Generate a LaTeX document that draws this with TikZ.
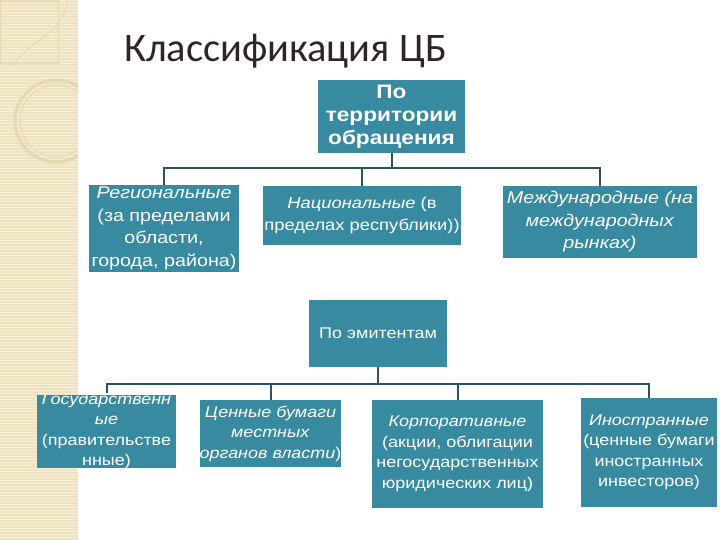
\documentclass[tikz,border=0pt]{standalone}
\usepackage{fontspec}
\setmainfont{Liberation Sans}[FakeStretch=1.16]
\newfontfamily\titlefont{Carlito}
\usetikzlibrary{positioning}
\definecolor{teal1}{RGB}{56,138,160}
\definecolor{conncol}{RGB}{44,84,96}
\definecolor{stripbg}{RGB}{238,226,192}
\definecolor{stripln}{RGB}{246,238,214}
\definecolor{stripdeco}{RGB}{230,216,180}
\definecolor{titlecol}{RGB}{50,36,36}
\tikzset{
  box/.style={rectangle, fill=teal1, text=white, inner sep=0pt, align=center},
  bigtxt/.style={font=\fontsize{17}{22.5}\selectfont},
  smalltxt/.style={font=\fontsize{15.5}{20.5}\selectfont},
  conn/.style={draw=conncol, line width=2pt}
}
\begin{document}
\begin{tikzpicture}[x=1pt,y=-1pt]
\useasboundingbox (0,0) rectangle (720,540);
\fill[white] (0,0) rectangle (720,540);
% decorative strip
\fill[stripbg] (0,0) rectangle (78,540);
\foreach \yy in {0,3,...,540} \draw[stripln, line width=0.8pt] (0,\yy) -- (78,\yy);
\begin{scope}
  \clip (0,0) rectangle (78,540);
  \draw[stripdeco, line width=0.8pt] (0,0) rectangle (58,63);
  \draw[stripdeco, line width=0.8pt] (68,0) .. controls (62,35) and (30,40) .. (12,66);
  \draw[stripdeco, line width=3pt] (56,121) circle (41);
  \draw[stripdeco, line width=0.8pt] (56,121) circle (36);
\end{scope}
% title
\node[anchor=base west, inner sep=0pt, text=titlecol, font=\titlefont\fontsize{40.5}{42}\selectfont] (title) at (124,62) {Классификация ЦБ};
% group 1
\node[box, minimum width=147pt, minimum height=73pt, font=\bfseries\fontsize{19.5}{23}\selectfont] (top) at (391.5,116.5) {По\\территории\\обращения};
\node[box, bigtxt, minimum width=150pt, minimum height=87pt] (reg) at (164,228.5) {\textit{Региональные}\\(за пределами\\области,\\города, района)};
\node[box, font=\fontsize{15.8}{22}\selectfont, minimum width=198pt, minimum height=59pt] (nat) at (362,215.5) {\textit{Национальные} (в\\пределах республики))};
\node[box, bigtxt, minimum width=194pt, minimum height=72pt] (int) at (600,222) {\textit{Международные (на}\\\textit{международных}\\\textit{рынках)}};
\coordinate (bus1) at (391,168);
\draw[conn] (top.south) -- (top.south |- bus1) -| (reg.north);
\draw[conn] (top.south |- bus1) -| (nat.north);
\draw[conn] (top.south |- bus1) -| (int.north);
% group 2
\node[box, smalltxt, minimum width=138pt, minimum height=67pt] (emit) at (378,333.5) {По эмитентам};
\begin{scope}
  \clip (37,395) rectangle (176,467);
  \node[box, smalltxt, minimum width=139pt, minimum height=72pt] (gov) at (106.5,431) {\textit{Государственн}\\\textit{ые}\\(правительстве\\нные)};
\end{scope}
\node[box, smalltxt, minimum width=137pt, minimum height=67pt] (loc) at (270.5,433.5) {\textit{Ценные бумаги}\\\textit{местных}\\\textit{органов власти})};
\node[box, smalltxt, minimum width=171pt, minimum height=108pt] (corp) at (457.5,454) {\textit{Корпоративные}\\(акции, облигации\\негосударственных\\юридических лиц)};
\node[box, smalltxt, minimum width=136pt, minimum height=109pt] (for) at (649,452.5) {\textit{Иностранные}\\(ценные бумаги\\иностранных\\инвесторов)};
\coordinate (bus2) at (378,384);
\draw[conn] (emit.south) -- (emit.south |- bus2) -| (gov.north);
\draw[conn] (emit.south |- bus2) -| (loc.north);
\draw[conn] (emit.south |- bus2) -| (corp.north);
\draw[conn] (emit.south |- bus2) -| (for.north);
\end{tikzpicture}
\end{document}
